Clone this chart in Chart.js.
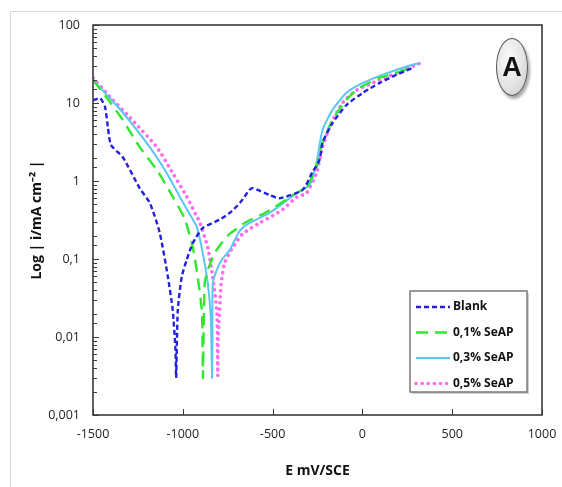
<!DOCTYPE html>
<html>
<head>
<meta charset="utf-8">
<script src="https://cdn.jsdelivr.net/npm/chart.js@4.4.0/dist/chart.umd.min.js"></script>
<style>
    body { margin: 0; background: #fff; overflow: hidden; }
    #wrap { position: relative; width: 562px; height: 487px; overflow: hidden; }
    #frame { position: absolute; left: 10px; top: 11px; width: 600px; height: 520px; border: 1px solid #d8d8d8; pointer-events: none; }
    #badge {
        position: absolute; left: 496px; top: 38px; width: 30px; height: 56px;
        border: 1.5px solid #555; border-radius: 50%;
        background: radial-gradient(ellipse at 40% 35%, #fafafa 0%, #e4e4e4 55%, #c4c4c4 100%);
        box-shadow: 2px 3px 3px rgba(0, 0, 0, 0.35);
        font: bold 27px "Liberation Sans", sans-serif; color: #111;
        text-align: center; line-height: 56px;
    }
</style>
</head>
<body>
<div id="wrap">
    <canvas id="myChart" width="562" height="487"></canvas>
    <div id="frame"></div>
    <div id="badge">A</div>
</div>
<script>
// potentiel (mV/SCE) et densite de courant (mA/cm2)
const blankE = [-1500, -1460, -1433, -1417, -1400, -1333, -1239, -1183, -1128, -1083, -1056, -1041, -1037, -1028, -1006, -978, -944, -889, -794, -739, -683, -628, -611, -517, -461, -333, -278, -239, -222, -167, -89, 0, 94, 189, 278];
const blankI = [10.8, 11.5, 8.9, 4.9, 2.9, 2.0, 0.8, 0.52, 0.215, 0.059, 0.022, 0.007, 0.003, 0.022, 0.059, 0.098, 0.16, 0.25, 0.32, 0.39, 0.52, 0.77, 0.81, 0.66, 0.6, 0.77, 1.3, 1.85, 3.1, 5.5, 9.4, 13.4, 18, 23, 28];

const se01E = [-1500, -1422, -1333, -1239, -1144, -1056, -990, -944, -917, -894, -890, -888, -878, -861, -822, -783, -739, -644, -533, -367, -311, -256, -222, -167, -89, -17, 94, 206, 278];
const se01I = [19.7, 11.6, 6, 2.7, 1.38, 0.63, 0.33, 0.14, 0.059, 0.022, 0.008, 0.003, 0.049, 0.072, 0.12, 0.16, 0.21, 0.3, 0.4, 0.7, 0.83, 1.5, 3.1, 6, 11, 15.6, 21, 25, 29];

const se03E = [-1500, -1422, -1333, -1183, -1089, -1017, -944, -922, -889, -861, -844, -840, -837, -835, -833, -811, -783, -739, -683, -628, -517, -367, -294, -256, -222, -167, -89, 0, 133, 278, 317];
const se03I = [19.7, 12.6, 7.5, 2.7, 1.26, 0.63, 0.32, 0.26, 0.12, 0.049, 0.018, 0.0068, 0.003, 0.01, 0.049, 0.072, 0.098, 0.13, 0.23, 0.29, 0.39, 0.7, 0.89, 1.7, 4.5, 8.1, 13.5, 18, 24, 31, 32];

const se05E = [-1500, -1406, -1294, -1144, -1056, -978, -922, -906, -861, -833, -811, -807, -805, -803, -786, -767, -722, -667, -572, -444, -367, -311, -256, -222, -183, -111, -33, 94, 206, 317];
const se05I = [21, 12, 6.5, 2.7, 1.26, 0.63, 0.35, 0.3, 0.14, 0.059, 0.022, 0.008, 0.0032, 0.01, 0.049, 0.089, 0.14, 0.21, 0.29, 0.43, 0.62, 0.7, 1.26, 2.7, 4.9, 10, 14.6, 19.6, 25, 32];

const seriesNames = ['Blank', '0,1% SeAP', '0,3% SeAP', '0,5% SeAP'];
const xTicks = [-1500, -1000, -500, 0, 500, 1000];
const yTickLabels = ['0,001', '0,01', '0,1', '1', '10', '100'];

function pts(e, i) {
    return e.map(function (v, k) { return { x: v, y: i[k] }; });
}

const FONT = '"Open Sans", sans-serif';

// graduations internes + cadre
const innerTicks = {
    id: 'innerTicks',
    afterDraw(chart) {
        const ctx = chart.ctx;
        const a = chart.chartArea;
        const x = chart.scales.x, y = chart.scales.y;
        ctx.save();
        ctx.strokeStyle = '#3a3a3a';
        ctx.lineWidth = 1;
        ctx.beginPath();
        y.ticks.forEach(function (t) {
            const py = Math.round(y.getPixelForValue(t.value)) + 0.5;
            const major = Math.abs(Math.log10(t.value) - Math.round(Math.log10(t.value))) < 1e-6;
            ctx.moveTo(a.left, py);
            ctx.lineTo(a.left + (major ? 6 : 4), py);
        });
        x.ticks.forEach(function (t) {
            const px = Math.round(x.getPixelForValue(t.value)) + 0.5;
            ctx.moveTo(px, a.bottom);
            ctx.lineTo(px, a.bottom - 6);
        });
        ctx.stroke();
        ctx.lineWidth = 1.6;
        ctx.strokeRect(a.left, a.top, a.right - a.left, a.bottom - a.top);
        ctx.restore();
    }
};

// legende dans la zone du graphique
const boxLegend = {
    id: 'boxLegend',
    afterDraw(chart) {
        const ctx = chart.ctx;
        const bx = 410, by = 291, bw = 117, bh = 101;
        ctx.save();
        ctx.fillStyle = 'rgba(0,0,0,0.18)';
        ctx.fillRect(bx + 2, by + 2, bw, bh);
        ctx.fillStyle = '#fff';
        ctx.fillRect(bx, by, bw, bh);
        ctx.strokeStyle = '#7a7a7a';
        ctx.lineWidth = 1.5;
        ctx.strokeRect(bx, by, bw, bh);
        ctx.font = 'bold 12px ' + FONT;
        ctx.textBaseline = 'middle';
        chart.data.datasets.forEach(function (ds, k) {
            const ly = by + 16 + k * 25.5;
            ctx.beginPath();
            ctx.strokeStyle = ds.borderColor;
            ctx.lineWidth = ds.borderWidth;
            ctx.lineCap = ds.borderCapStyle || 'butt';
            ctx.setLineDash(ds.borderDash || []);
            ctx.moveTo(416, ly);
            ctx.lineTo(450, ly);
            ctx.stroke();
            ctx.setLineDash([]);
            ctx.fillStyle = '#111';
            ctx.fillText(ds.label, 453, ly);
        });
        ctx.restore();
    }
};

const ctx = document.getElementById('myChart').getContext('2d');
new Chart(ctx, {
    type: 'scatter',
    data: {
        datasets: [{
            label: seriesNames[0],
            data: pts(blankE, blankI),
            borderColor: '#2121dd',
            borderWidth: 2.4,
            borderDash: [5, 3],
            tension: 0.2
        }, {
            label: seriesNames[1],
            data: pts(se01E, se01I),
            borderColor: '#2fe82f',
            borderWidth: 2.4,
            borderDash: [12, 7],
            tension: 0.2
        }, {
            label: seriesNames[2],
            data: pts(se03E, se03I),
            borderColor: '#5ac6f2',
            borderWidth: 2,
            tension: 0.2
        }, {
            label: seriesNames[3],
            data: pts(se05E, se05I),
            borderColor: '#ff6cf0',
            borderWidth: 3.6,
            borderDash: [0.1, 6],
            borderCapStyle: 'round',
            tension: 0.2
        }]
    },
    options: {
        responsive: false,
        animation: false,
        showLine: true,
        pointRadius: 0,
        pointHoverRadius: 0,
        layout: { padding: { left: 0, right: 20, top: 25, bottom: 0 } },
        plugins: {
            legend: { display: false },
            tooltip: { enabled: false }
        },
        scales: {
            x: {
                type: 'linear',
                min: -1500,
                max: 1000,
                afterBuildTicks: function (scale) {
                    scale.ticks = xTicks.map(function (v) { return { value: v }; });
                },
                afterFit: function (scale) {
                    scale.height = 72;
                    scale.paddingLeft = 0;
                    scale.paddingRight = 0;
                },
                grid: { display: false, drawTicks: false },
                border: { display: false },
                ticks: {
                    padding: 12,
                    color: '#222',
                    font: { family: FONT, size: 12.5 },
                    callback: function (v) { return String(v); }
                },
                title: {
                    display: true,
                    text: 'E mV/SCE',
                    color: '#111',
                    font: { family: FONT, size: 14, weight: 'bold' },
                    padding: { top: 0, bottom: 8 }
                }
            },
            y: {
                type: 'logarithmic',
                min: 0.001,
                max: 100,
                afterFit: function (scale) {
                    scale.width = 93;
                    scale.paddingTop = 0;
                    scale.paddingBottom = 0;
                },
                grid: { display: false, drawTicks: false },
                border: { display: false },
                ticks: {
                    autoSkip: false,
                    padding: 13,
                    color: '#222',
                    font: { family: FONT, size: 12.5 },
                    callback: function (v) {
                        const p = Math.log10(v);
                        if (Math.abs(p - Math.round(p)) > 1e-6) return '';
                        return yTickLabels[Math.round(p) + 3];
                    }
                },
                title: {
                    display: true,
                    text: 'Log | i/mA cm⁻² |',
                    color: '#111',
                    font: { family: FONT, size: 14, weight: 'bold' },
                    padding: { top: 29, bottom: 0 }
                }
            }
        }
    },
    plugins: [innerTicks, boxLegend]
});
</script>
</body>
</html>
